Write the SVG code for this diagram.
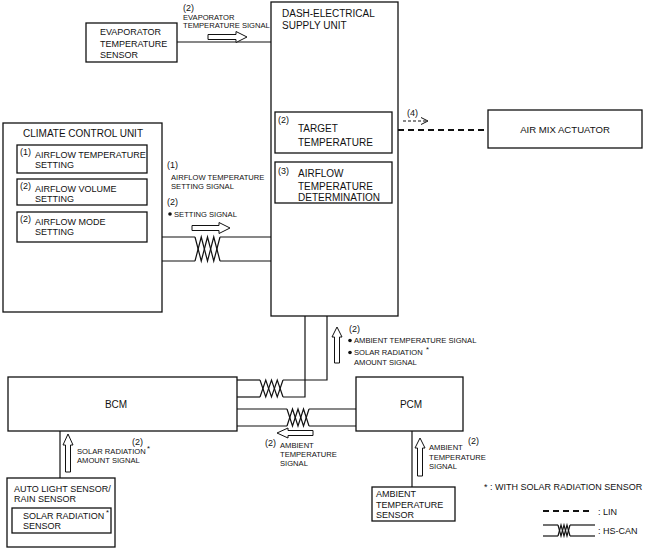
<svg xmlns="http://www.w3.org/2000/svg" width="647" height="549" viewBox="0 0 647 549">
<style>
text{font-family:"Liberation Sans",Arial,sans-serif;fill:#111}
.box{fill:#fff;stroke:#111;stroke-width:1.3}
.ln{fill:none;stroke:#111;stroke-width:1.2}
.ha{fill:#fff;stroke:#111;stroke-width:1}
.lg{font-size:10px}
.md{font-size:9px}
.in{font-size:10px}
.sm{font-size:7.6px}
.nm{font-size:9px}
.lin{fill:none;stroke:#111;stroke-width:2.2;stroke-dasharray:6 4}
</style>
<rect width="647" height="549" fill="#fff"/>
<g id="connectors">
  <line class="ln" x1="177" y1="42" x2="271" y2="42"/>
  <polygon class="ha" points="208,34.5 236,34.5 236,31.5 247,37 236,42.5 236,39.5 208,39.5"/>
  <polyline class="ln" points="162,237 195,237"/>
  <polyline class="ln" points="162,261 195,261"/>
  <polyline class="ln" points="195,237 201.25,261 207.5,237 213.75,261 220,237"/>
  <polyline class="ln" points="195,261 201.25,237 207.5,261 213.75,237 220,261"/>
  <polyline class="ln" points="220,237 271,237"/>
  <polyline class="ln" points="220,261 271,261"/>
  <polygon class="ha" points="192,225.5 219,225.5 219,222.5 230,228 219,233.5 219,230.5 192,230.5"/>
  <line class="lin" x1="398" y1="130" x2="488" y2="130"/>
  <line x1="403" y1="121" x2="426" y2="121" stroke="#111" stroke-width="1" stroke-dasharray="3 2"/>
  <polyline points="421,117.5 428,121 421,124.5" fill="none" stroke="#111" stroke-width="1"/>
  <polyline class="ln" points="327,316 327,380 283,380"/>
  <polyline class="ln" points="305,316 305,397 283,397"/>
  <polyline class="ln" points="260,380 237,380"/>
  <polyline class="ln" points="260,397 237,397"/>
  <polyline class="ln" points="260,380 265.75,397 271.5,380 277.25,397 283,380"/>
  <polyline class="ln" points="260,397 265.75,380 271.5,397 277.25,380 283,397"/>
  <polygon class="ha" points="334.5,363 334.5,337 332,337 337,327 342,337 339.5,337 339.5,363"/>
  <polyline class="ln" points="237,409 287,409"/>
  <polyline class="ln" points="237,426 287,426"/>
  <polyline class="ln" points="287,409 292.5,426 298,409 303.5,426 309,409"/>
  <polyline class="ln" points="287,426 292.5,409 298,426 303.5,409 309,426"/>
  <polyline class="ln" points="309,409 356,409"/>
  <polyline class="ln" points="309,426 356,426"/>
  <polygon class="ha" points="313,430.5 288,430.5 288,428 277,433 288,438 288,435.5 313,435.5"/>
  <line class="ln" x1="412" y1="431" x2="412" y2="487"/>
  <polygon class="ha" points="417.5,476 417.5,448 415,448 420,438 425,448 422.5,448 422.5,476"/>
  <line class="ln" x1="60" y1="431" x2="60" y2="478"/>
  <polygon class="ha" points="65.5,472 65.5,445 63,445 68,434 73,445 70.5,445 70.5,472"/>
</g>
<g id="labels">
  <text class="nm" x="183" y="11">(2)</text>
  <text class="sm" x="183" y="19.5">EVAPORATOR</text>
  <text class="sm" x="183" y="28">TEMPERATURE SIGNAL</text>
  <text class="nm" x="167" y="168">(1)</text>
  <text class="sm" x="171" y="180">AIRFLOW TEMPERATURE</text>
  <text class="sm" x="171" y="188.5">SETTING SIGNAL</text>
  <text class="nm" x="167" y="205">(2)</text>
  <circle cx="170" cy="214" r="1.8" fill="#111"/>
  <text class="sm" x="174" y="217">SETTING SIGNAL</text>
  <text class="nm" x="407" y="116">(4)</text>
  <text class="nm" x="349" y="332">(2)</text>
  <circle cx="350" cy="340.5" r="1.8" fill="#111"/>
  <text class="sm" x="354" y="343">AMBIENT TEMPERATURE SIGNAL</text>
  <circle cx="350" cy="352.5" r="1.8" fill="#111"/>
  <text class="sm" x="354" y="355">SOLAR RADIATION</text>
  <text class="sm" x="426" y="352">*</text>
  <text class="sm" x="354" y="365">AMOUNT SIGNAL</text>
  <text class="nm" x="265" y="446">(2)</text>
  <text class="sm" x="280" y="448">AMBIENT</text>
  <text class="sm" x="280" y="457">TEMPERATURE</text>
  <text class="sm" x="280" y="466">SIGNAL</text>
  <text class="nm" x="468" y="444">(2)</text>
  <text class="sm" x="429" y="450">AMBIENT</text>
  <text class="sm" x="429" y="459.5">TEMPERATURE</text>
  <text class="sm" x="429" y="469">SIGNAL</text>
  <text class="nm" x="132" y="445">(2)</text>
  <text class="sm" x="77" y="454">SOLAR RADIATION</text>
  <text class="sm" x="147" y="451">*</text>
  <text class="sm" x="77" y="463">AMOUNT SIGNAL</text>
</g>
<g id="evaporator-sensor">
  <rect class="box" x="86" y="23" width="91" height="39"/>
  <text class="md" x="100" y="35">EVAPORATOR</text>
  <text class="md" x="100" y="46.5">TEMPERATURE</text>
  <text class="md" x="100" y="57.5">SENSOR</text>
</g>
<g id="dash-electrical-supply-unit">
  <rect class="box" x="271" y="2" width="127" height="314"/>
  <text class="lg" x="282" y="16.5">DASH-ELECTRICAL</text>
  <text class="lg" x="282" y="28.5">SUPPLY UNIT</text>
  <g id="target-temperature">
    <rect class="box" x="275" y="112" width="117" height="41"/>
    <text class="nm" x="278" y="123">(2)</text>
    <text class="in" x="298" y="132">TARGET</text>
    <text class="in" x="298" y="145.5">TEMPERATURE</text>
  </g>
  <g id="airflow-temperature-determination">
    <rect class="box" x="275" y="162" width="117" height="41"/>
    <text class="nm" x="278" y="174">(3)</text>
    <text class="in" x="298" y="177">AIRFLOW</text>
    <text class="in" x="298" y="189.5">TEMPERATURE</text>
    <text class="in" x="298" y="200.5">DETERMINATION</text>
  </g>
</g>
<g id="air-mix-actuator">
  <rect class="box" x="488" y="110" width="154" height="38"/>
  <text x="565" y="133" font-size="9.6" text-anchor="middle">AIR MIX ACTUATOR</text>
</g>
<g id="climate-control-unit">
  <rect class="box" x="3" y="123" width="159" height="189"/>
  <text class="lg" x="83" y="136.5" text-anchor="middle">CLIMATE CONTROL UNIT</text>
  <g id="airflow-temperature-setting">
    <rect class="box" x="17" y="145" width="130" height="28"/>
    <text class="nm" x="20" y="155">(1)</text>
    <text class="md" x="35" y="157.5">AIRFLOW TEMPERATURE</text>
    <text class="md" x="35" y="168">SETTING</text>
  </g>
  <g id="airflow-volume-setting">
    <rect class="box" x="17" y="179" width="130" height="26"/>
    <text class="nm" x="20" y="189">(2)</text>
    <text class="md" x="35" y="191.5">AIRFLOW VOLUME</text>
    <text class="md" x="35" y="202">SETTING</text>
  </g>
  <g id="airflow-mode-setting">
    <rect class="box" x="17" y="212" width="130" height="30"/>
    <text class="nm" x="20" y="222">(2)</text>
    <text class="md" x="35" y="224.5">AIRFLOW MODE</text>
    <text class="md" x="35" y="235">SETTING</text>
  </g>
</g>
<g id="bcm">
  <rect class="box" x="8" y="377" width="229" height="54"/>
  <text class="lg" x="116" y="408" text-anchor="middle">BCM</text>
</g>
<g id="pcm">
  <rect class="box" x="356" y="377" width="107" height="54"/>
  <text class="lg" x="411" y="408" text-anchor="middle">PCM</text>
</g>
<g id="auto-light-sensor">
  <rect class="box" x="7" y="478" width="108" height="69"/>
  <text class="md" x="14" y="492">AUTO LIGHT SENSOR/</text>
  <text class="md" x="14" y="502">RAIN SENSOR</text>
  <g id="solar-radiation-sensor">
    <rect class="box" x="12" y="508" width="99" height="25"/>
    <text class="md" x="23" y="519">SOLAR RADIATION</text>
    <text class="md" x="23" y="529">SENSOR</text>
    <text class="sm" x="106" y="515">*</text>
  </g>
</g>
<g id="ambient-temperature-sensor">
  <rect class="box" x="372" y="487" width="83" height="34"/>
  <text class="md" x="376" y="497">AMBIENT</text>
  <text class="md" x="376" y="507.5">TEMPERATURE</text>
  <text class="md" x="376" y="518">SENSOR</text>
</g>
<g id="legend">
  <text class="md" x="484" y="490">* : WITH SOLAR RADIATION SENSOR</text>
  <line class="lin" x1="543" y1="511" x2="591" y2="511" stroke-dasharray="5 2.5" stroke-width="2"/>
  <text class="md" x="598" y="514.5">: LIN</text>
  <polyline class="ln" points="543,525 558,525"/>
  <polyline class="ln" points="543,536 558,536"/>
  <polyline class="ln" points="558,525 561,536 564,525 567,536 570,525"/>
  <polyline class="ln" points="558,536 561,525 564,536 567,525 570,536"/>
  <polyline class="ln" points="570,525 595,525"/>
  <polyline class="ln" points="570,536 595,536"/>
  <text class="md" x="598" y="534">: HS-CAN</text>
</g>
</svg>
